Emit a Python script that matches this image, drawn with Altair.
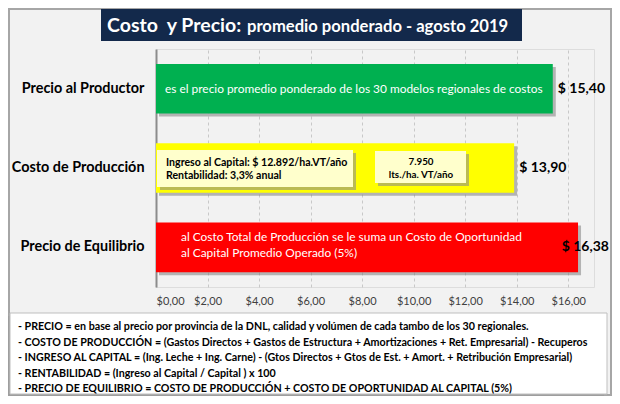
import altair as alt
import pandas as pd

# ---- data ----
categories = ["Precio al Productor", "Costo de Producción", "Precio de Equilibrio"]
values = [15.40, 13.90, 16.38]
bar_colors = ["#00b050", "#ffff00", "#ff0000"]
value_labels = ["$ 15,40", "$ 13,90", "$ 16,38"]

title_main = "Costo\u00a0 y Precio:"
title_sub = "promedio ponderado - agosto 2019"

note_green = "es el precio promedio ponderado de los 30 modelos regionales de costos"
note_red = ["al Costo Total de Producción se le suma un Costo de Oportunidad",
            "al Capital Promedio Operado (5%)"]
callout_capital = ["Ingreso al Capital: $ 12.892/ha.VT/año", "Rentabilidad: 3,3% anual"]
callout_litros = ["7.950", "lts./ha. VT/año"]

notes_lines = [
    "- PRECIO = en base al precio por provincia de la DNL, calidad y volúmen de cada tambo de los 30 regionales.",
    "- COSTO DE PRODUCCIÓN = (Gastos Directos + Gastos de Estructura + Amortizaciones + Ret. Empresarial) - Recuperos",
    "- INGRESO AL CAPITAL = (Ing. Leche + Ing. Carne) - (Gtos Directos + Gtos de Est. + Amort. + Retribución Empresarial)",
    "- RENTABILIDAD = (Ingreso al Capital / Capital ) x 100",
    "- PRECIO DE EQUILIBRIO = COSTO DE PRODUCCIÓN + COSTO DE OPORTUNIDAD AL CAPITAL (5%)",
]

x_ticks = [0, 2, 4, 6, 8, 10, 12, 14, 16]

df = pd.DataFrame({
    "category": categories,
    "value": values,
    "color": bar_colors,
    "label": value_labels,
})
one = pd.DataFrame({"k": [0]})

FONT = "Lato"
W, H = 438, 238

xscale = alt.Scale(domain=[0, 17], nice=False, zero=True)
yscale = alt.Scale(paddingInner=0.375, paddingOuter=0.1875)

xaxis = alt.Axis(values=x_ticks, title=None,
                 labelExpr="'$' + replace(format(datum.value, '.2f'), '.', ',')",
                 labelFontSize=11, labelColor="#404040", labelPadding=8,
                 domain=False, ticks=False, grid=True, gridDash=[3, 3],
                 gridColor="#c8c8c8", gridWidth=1)
yaxis = alt.Axis(title=None, ticks=False, domain=True, domainColor="#8c8c8c",
                 domainWidth=2, labelFontSize=14.4, labelFontWeight="bold",
                 labelColor="#000000", labelPadding=12, labelLimit=160, grid=False)


def X(field):
    return alt.X(field, scale=xscale, axis=xaxis)


Y = alt.Y("category:N", sort=categories, scale=yscale, axis=yaxis)

base = alt.Chart(df)

shadow = base.mark_bar(color="#7f7f7f", opacity=0.55, xOffset=3, yOffset=3).encode(
    x=X("value:Q"), y=Y)

bars = base.mark_bar().encode(x=X("value:Q"), y=Y, color=alt.Color("color:N", scale=None))

vlabels = base.transform_calculate(lx="min(datum.value, 15.55)").mark_text(
    align="left", baseline="middle", dx=5, fontSize=14, fontWeight="bold", color="#000000", font=FONT
).encode(x=X("lx:Q"), y=Y, text="label:N")

green_df = pd.DataFrame({"category": [categories[0]], "t": [note_green], "z": [0]})
green_txt = alt.Chart(green_df).mark_text(
    align="left", baseline="middle", dx=9, fontSize=11.9, color="white", font=FONT
).encode(x=X("z:Q"), y=Y, text="t:N")

red_df = pd.DataFrame({"category": [categories[2]], "t": ["\n".join(note_red)], "z": [0]})
red_txt = alt.Chart(red_df).mark_text(
    align="left", baseline="middle", dx=25, dy=-10, fontSize=11.9, lineHeight=16, color="white",
    font=FONT, lineBreak="\n"
).encode(x=X("z:Q"), y=Y, text="t:N")


def rect(x, x2, y, y2, **kw):
    return alt.Chart(one).mark_rect(**kw).encode(
        x=alt.value(x), x2=alt.value(x2), y=alt.value(y), y2=alt.value(y2))


def txt(s, x, y, **kw):
    d = pd.DataFrame({"t": [s]})
    return alt.Chart(d).mark_text(font=FONT, **kw).encode(
        x=alt.value(x), y=alt.value(y), text="t:N")


# callouts inside yellow bar
c1_shadow = rect(4, 200, 104, 141, color="#8c8c8c", opacity=0.6)
c1 = rect(1, 197, 101, 138, color="#ffffcc")
c1_txt = txt("\n".join(callout_capital), 10, 114, align="left", baseline="middle",
             fontSize=10.6, fontWeight="bold", color="#000000", lineBreak="\n", lineHeight=12.5)
c2_shadow = rect(222, 313, 105, 137, color="#8c8c8c", opacity=0.6)
c2 = rect(219, 310, 102, 134, color="#ffffcc")
c2_txt = txt("\n".join(callout_litros), 265, 113, align="center", baseline="middle",
             fontSize=9.8, fontWeight="bold", color="#000000", lineBreak="\n", lineHeight=12.5)

# title
t_box = rect(-55, 366, -40, -8, color="#13294b")
t_main = txt(title_main, -49, -23, align="left", baseline="middle", fontSize=19.5,
             fontWeight="bold", color="white")
t_sub = txt(title_sub, 91, -22, align="left", baseline="middle", fontSize=16.6,
            fontWeight="bold", color="white")

# outer frame
frame = rect(-147, 455, -40, 346, fillOpacity=0, stroke="#a6a6a6", strokeWidth=2)

# notes box
n_shadow = rect(-149, 448, 267, 347, color="#9a9a9a", opacity=0.6)
n_box = rect(-146, 451, 264, 345, color="white", stroke="#bfbfbf", strokeWidth=1)
n_txt = txt("\n".join(notes_lines), -138, 278, align="left", baseline="middle",
            fontSize=10.7, fontWeight="bold", color="#000000", lineBreak="\n", lineHeight=15.5)

chart = alt.layer(
    shadow, bars, vlabels, green_txt, red_txt,
    frame, t_box, t_main, t_sub,
    c1_shadow, c1, c1_txt, c2_shadow, c2, c2_txt,
    n_shadow, n_box, n_txt,
).properties(
    width=W, height=H,
    autosize=alt.AutoSizeParams(type="none"),
    padding={"left": 148, "top": 41, "right": 18, "bottom": 109},
    background="#f2f2f2",
).configure_view(fill="white", stroke=None).configure(font=FONT)

chart.save("out.html", embed_options={"renderer": "svg", "actions": False})
